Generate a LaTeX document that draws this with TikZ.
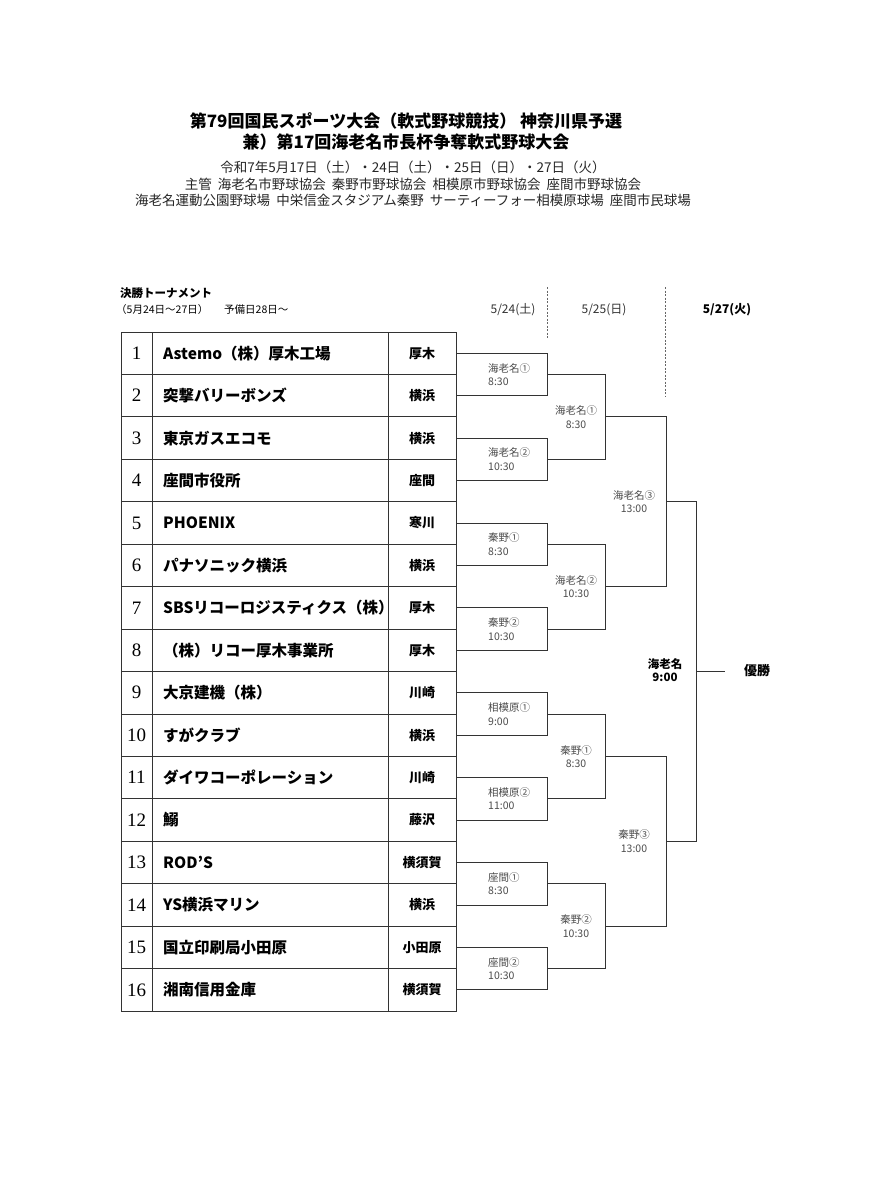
\documentclass[tikz,border=0pt]{standalone}
\usepackage{fontspec}
\setmainfont{Noto Sans CJK JP}
\begin{document}
\begin{tikzpicture}[x=1pt,y=-1pt,
  ln/.style={draw=black!80,line width=0.8pt},
  tm/.style={font=\bfseries\fontsize{15.5}{17}\selectfont,anchor=west,inner sep=0},
  rg/.style={font=\bfseries\fontsize{13}{15}\selectfont,inner sep=0},
  nm/.style={font=\fontsize{19}{20}\selectfont,inner sep=0},
  gl/.style={font=\fontsize{10.5}{13.5}\selectfont,text=black!70,align=left,inner sep=0},
  gc/.style={font=\fontsize{10.5}{13.5}\selectfont,text=black!70,align=center,inner sep=0}]
\useasboundingbox[fill=white] (0,0) rectangle (868,1200);
\node[font=\bfseries\fontsize{17}{21}\selectfont,align=center] (t1) at (406,131) {第79回国民スポーツ大会（軟式野球競技）\ 神奈川県予選\\兼）第17回海老名市長杯争奪軟式野球大会};
\node[font=\fontsize{13.5}{16.5}\selectfont,align=center,text=black!85] (t2) at (413,184) {令和7年5月17日（土）・24日（土）・25日（日）・27日（火）\\主管\ \ 海老名市野球協会\ \ 秦野市野球協会\ \ 相模原市野球協会\ \ 座間市野球協会\\海老名運動公園野球場\ \ 中栄信金スタジアム秦野\ \ サーティーフォー相模原球場\ \ 座間市民球場};
\node[font=\bfseries\fontsize{11.5}{13}\selectfont,anchor=west,inner sep=0] (h1) at (120,293) {決勝トーナメント};
\node[font=\fontsize{10.5}{12}\selectfont,anchor=west,inner sep=0] (h2) at (116,310) {（5月24日～27日）};
\node[font=\fontsize{10.5}{12}\selectfont,anchor=west,inner sep=0] (h3) at (224,310) {予備日28日～};
\node[font=\fontsize{12}{13}\selectfont,text=black!80] (d1) at (513,310) {5/24(土)};
\node[font=\fontsize{12}{13}\selectfont,text=black!80] (d2) at (604,310) {5/25(日)};
\node[font=\bfseries\fontsize{12}{13}\selectfont] (d3) at (727,310) {5/27(火)};
\coordinate (v1a) at (547,287); \coordinate (v1b) at (547,338);
\coordinate (v2a) at (665,287); \coordinate (v2b) at (665,396);
\draw[dash pattern=on 2pt off 1.5pt,black!60] (v1a)--(v1b);
\draw[dash pattern=on 2pt off 1.5pt,black!60] (v2a)--(v2b);
\draw[ln] (121,332) rectangle (456,1011);
\draw[ln] (152,332)--(152,1011) (388,332)--(388,1011);
\foreach \i/\t/\r in {1/Astemo（株）厚木工場/厚木,2/突撃バリーボンズ/横浜,3/東京ガスエコモ/横浜,4/座間市役所/座間,5/PHOENIX/寒川,6/パナソニック横浜/横浜,7/SBSリコーロジスティクス（株）/厚木,8/（株）リコー厚木事業所/厚木,9/大京建機（株）/川崎,10/すがクラブ/横浜,11/ダイワコーポレーション/川崎,12/鰯/藤沢,13/ROD'S/横須賀,14/YS横浜マリン/横浜,15/国立印刷局小田原/小田原,16/湘南信用金庫/横須賀}{
  \pgfmathsetmacro\yc{332+42.44*(\i-0.5)}
  \pgfmathsetmacro\yb{332+42.44*\i}
  \ifnum\i<16 \draw[ln] (121,\yb)--(456,\yb); \fi
  \node[nm] (n\i) at (136.5,\yc) {\fontspec{Liberation Serif}\i};
  \node[tm] (team\i) at (163,\yc) {\t};
  \node[rg] (reg\i) at (422,\yc) {\r};
}
\foreach \k/\a/\b in {1/海老名①/8:30,2/海老名②/10:30,3/秦野①/8:30,4/秦野②/10:30,5/相模原①/9:00,6/相模原②/11:00,7/座間①/8:30,8/座間②/10:30}{
  \pgfmathsetmacro\ya{332+42.44*(2*\k-1.5)}
  \pgfmathsetmacro\yb{332+42.44*(2*\k-0.5)}
  \draw[ln] (456,\ya)--(547,\ya)--(547,\yb)--(456,\yb);
  \node[gl,anchor=west] (r1l\k) at (488,{(\ya+\yb)/2}) {\a\\\b};
}
\foreach \k/\a/\b in {1/海老名①/8:30,2/海老名②/10:30,3/秦野①/8:30,4/秦野②/10:30}{
  \pgfmathsetmacro\ya{332+42.44*(4*\k-3)}
  \pgfmathsetmacro\yb{332+42.44*(4*\k-1)}
  \draw[ln] (547,\ya)--(605,\ya)--(605,\yb)--(547,\yb);
  \node[gc] (r2l\k) at (576,{(\ya+\yb)/2}) {\a\\\b};
}
\foreach \k/\a in {1/海老名③,2/秦野③}{
  \pgfmathsetmacro\ya{332+42.44*(8*\k-6)}
  \pgfmathsetmacro\yb{332+42.44*(8*\k-2)}
  \draw[ln] (605,\ya)--(666,\ya)--(666,\yb)--(605,\yb);
  \node[gc] (r3l\k) at (634,{(\ya+\yb)/2}) {\a\\13:00};
}
\coordinate (fa) at (666,{332+42.44*4});
\coordinate (fb) at (666,{332+42.44*12});
\coordinate (fc) at (696,{332+42.44*4});
\coordinate (fd) at (696,{332+42.44*12});
\coordinate (fm) at (696,{332+42.44*8});
\coordinate (fe) at (725,{332+42.44*8});
\draw[ln] (fa)--(fc)--(fd)--(fb);
\draw[ln] (fm)--(fe);
\node[font=\bfseries\fontsize{11.5}{13}\selectfont,align=center] (fin) at (665,670) {海老名\\9:00};
\node[font=\bfseries\fontsize{13}{15}\selectfont] (win) at (757,671) {優勝};
\end{tikzpicture}
\end{document}
